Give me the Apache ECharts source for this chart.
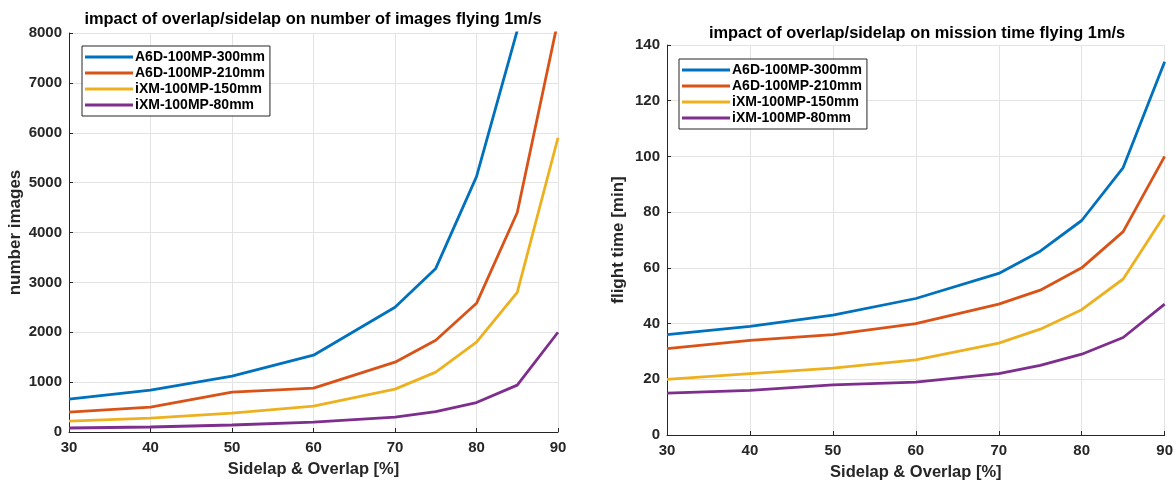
<!DOCTYPE html>
<html>
<head>
<meta charset="utf-8">
<script src="https://cdn.jsdelivr.net/npm/echarts@6/dist/echarts.min.js"></script>
<style>
  html, body { margin: 0; padding: 0; background: #fff; }
  #chart { width: 1176px; height: 486px; }
</style>
</head>
<body>
<div id="chart"></div>
<script>
// Sidelap & overlap settings [%]
const overlap = [30, 40, 50, 60, 70, 75, 80, 85, 90];

const seriesNames = ['A6D-100MP-300mm', 'A6D-100MP-210mm', 'iXM-100MP-150mm', 'iXM-100MP-80mm'];
const seriesColors = ['#0072BD', '#D95319', '#EDB120', '#7E2F8E'];

// Number of images per camera/lens combination
const imagesA6D300 = [660, 840, 1120, 1540, 2500, 3280, 5120, 8050, 15000];
const imagesA6D210 = [400, 500, 800, 880, 1400, 1840, 2580, 4400, 8250];
const imagesIXM150 = [220, 280, 380, 520, 860, 1200, 1800, 2800, 5900];
const imagesIXM80  = [80, 100, 140, 200, 300, 410, 590, 940, 2000];

// Mission flight time [min]
const timeA6D300 = [36, 39, 43, 49, 58, 66, 77, 96, 134];
const timeA6D210 = [31, 34, 36, 40, 47, 52, 60, 73, 100];
const timeIXM150 = [20, 22, 24, 27, 33, 38, 45, 56, 79];
const timeIXM80  = [15, 16, 18, 19, 22, 25, 29, 35, 47];

const imageSets = [imagesA6D300, imagesA6D210, imagesIXM150, imagesIXM80];
const timeSets = [timeA6D300, timeA6D210, timeIXM150, timeIXM80];

const FONT = '"Liberation Sans", Arial, Helvetica, sans-serif';
const AXIS_DARK = '#262626';
const GRID_LIGHT = '#e3e3e3';

function pairs(ys) {
  return overlap.map((x, i) => [x, ys[i]]);
}

function plainNumber(v) {
  return String(v);
}

function xAxisFor(gridIndex) {
  return {
    type: 'value', gridIndex, min: 30, max: 90, interval: 10,
    name: 'Sidelap & Overlap [%]', nameLocation: 'middle', nameGap: 29,
    nameTextStyle: { fontFamily: FONT, fontWeight: 'bold', fontSize: 16.5, color: AXIS_DARK },
    axisLine: { show: true, lineStyle: { color: AXIS_DARK, width: 1 } },
    axisTick: { show: true, inside: true, length: 4, lineStyle: { color: AXIS_DARK } },
    axisLabel: { fontFamily: FONT, fontWeight: 'bold', fontSize: 15, color: AXIS_DARK, margin: 8, formatter: plainNumber },
    splitLine: { show: true, lineStyle: { color: GRID_LIGHT, width: 1 } }
  };
}

function yAxisFor(gridIndex, name, max, interval, nameGap) {
  return {
    type: 'value', gridIndex, min: 0, max, interval,
    name, nameLocation: 'middle', nameGap,
    nameTextStyle: { fontFamily: FONT, fontWeight: 'bold', fontSize: 17, color: AXIS_DARK },
    axisLine: { show: true, lineStyle: { color: AXIS_DARK, width: 1 } },
    axisTick: { show: true, inside: true, length: 4, lineStyle: { color: AXIS_DARK } },
    axisLabel: { fontFamily: FONT, fontWeight: 'bold', fontSize: 15, color: AXIS_DARK, margin: 7, formatter: plainNumber },
    splitLine: { show: true, lineStyle: { color: GRID_LIGHT, width: 1 } }
  };
}

function legendFor(left, top) {
  return {
    left, top, orient: 'vertical',
    data: seriesNames,
    icon: 'rect', itemWidth: 48, itemHeight: 3, itemGap: 0,
    padding: [3, 5, 3, 3],
    borderColor: AXIS_DARK, borderWidth: 1, backgroundColor: '#fff',
    textStyle: { fontFamily: FONT, fontWeight: 'bold', fontSize: 14, color: '#000', padding: [0, 0, 0, -3], lineHeight: 16 },
    selectedMode: false
  };
}

const series = [];
seriesNames.forEach((name, i) => {
  series.push({
    name, type: 'line', xAxisIndex: 0, yAxisIndex: 0,
    data: pairs(imageSets[i]), showSymbol: false, symbol: 'none', clip: true,
    lineStyle: { color: seriesColors[i], width: 2.8 }, itemStyle: { color: seriesColors[i] },
    z: 10 - i
  });
});
seriesNames.forEach((name, i) => {
  series.push({
    name, type: 'line', xAxisIndex: 1, yAxisIndex: 1,
    data: pairs(timeSets[i]), showSymbol: false, symbol: 'none', clip: true,
    lineStyle: { color: seriesColors[i], width: 2.8 }, itemStyle: { color: seriesColors[i] },
    z: 10 - i
  });
});

const chart = echarts.init(document.getElementById('chart'), null, { renderer: 'canvas' });
chart.setOption({
  animation: false,
  backgroundColor: '#fff',
  title: [
    { text: 'impact of overlap/sidelap on number of images flying 1m/s', left: 313, top: 11, textAlign: 'center', padding: 0,
      textStyle: { fontFamily: FONT, fontWeight: 'bold', fontSize: 16.4, color: '#000' } },
    { text: 'impact of overlap/sidelap on mission time flying 1m/s', left: 917, top: 25, textAlign: 'center', padding: 0,
      textStyle: { fontFamily: FONT, fontWeight: 'bold', fontSize: 16.4, color: '#000' } }
  ],
  legend: [legendFor(82, 46), legendFor(679, 59)],
  grid: [
    { left: 69, top: 33, width: 489, height: 399, containLabel: false },
    { left: 667, top: 45, width: 502, height: 397, containLabel: false }
  ],
  xAxis: [xAxisFor(0), xAxisFor(1)],
  yAxis: [
    yAxisFor(0, 'number images', 8000, 1000, 45),
    yAxisFor(1, 'flight time [min]', 140, 20, 40)
  ],
  series
});
</script>
</body>
</html>
